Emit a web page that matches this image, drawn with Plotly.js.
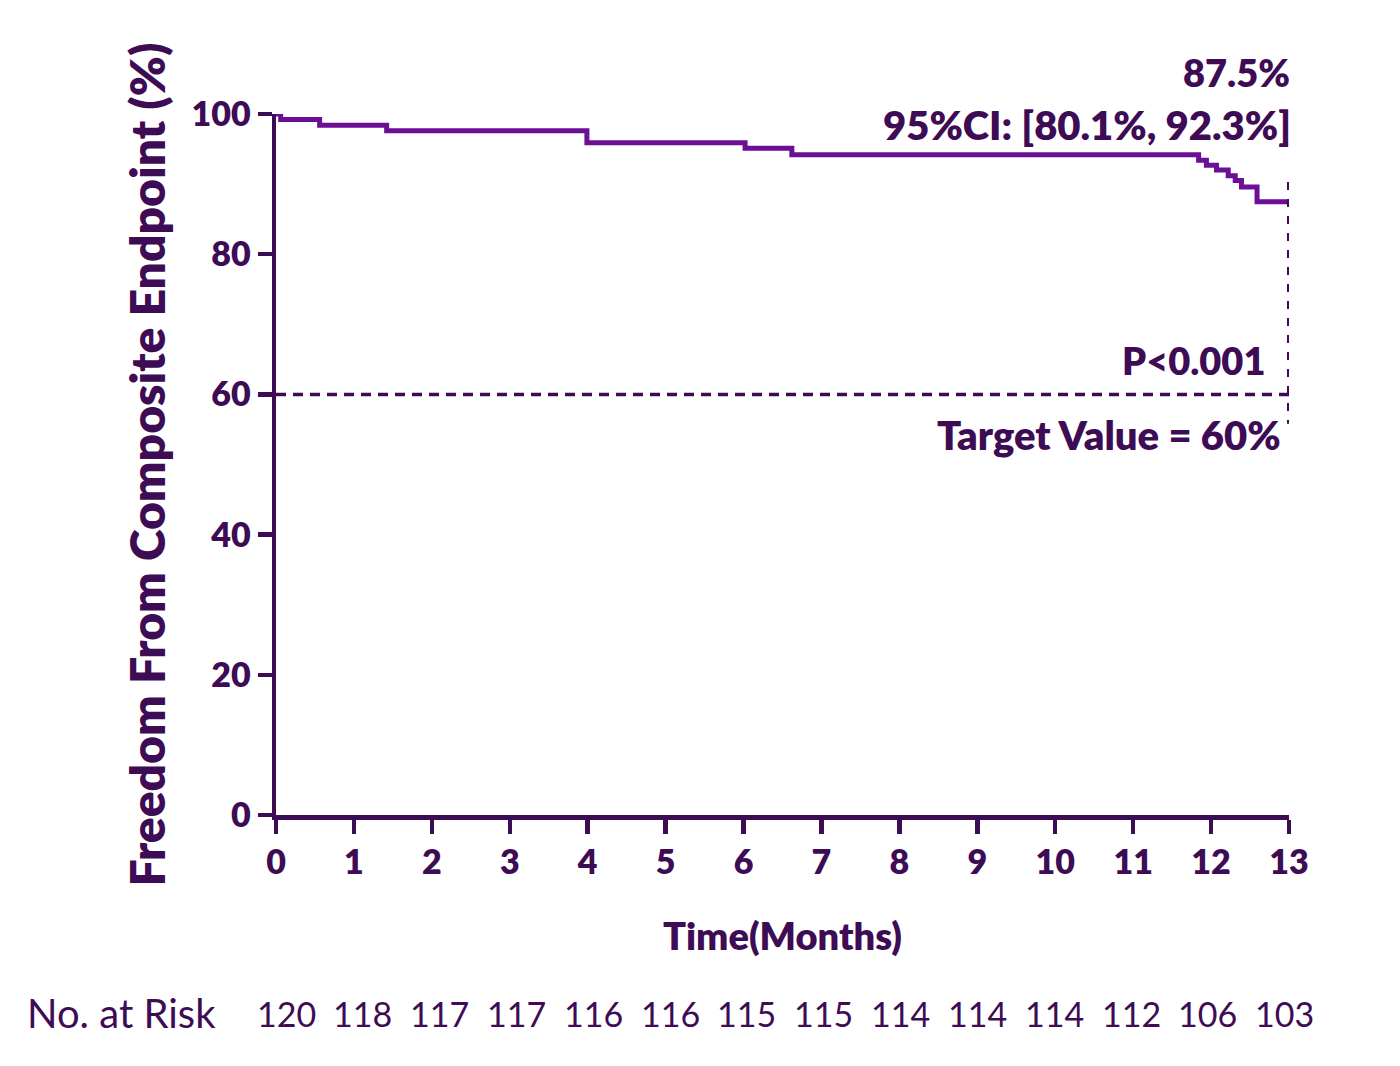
<!DOCTYPE html>
<html>
<head>
<meta charset="utf-8">
<script src="https://cdn.plot.ly/plotly-3.0.1.min.js"></script>
<style>html,body{margin:0;padding:0;background:#fff;}#chart{width:1400px;height:1066px;}</style>
</head>
<body>
<div id="chart"></div>
<script>
// Kaplan-Meier step data
const timeMonths = [0, 0.06, 0.56, 1.42, 3.99, 6.02, 6.62, 11.84, 11.94, 12.07, 12.22, 12.31, 12.39, 12.59, 13];
const freedomPct = [100, 99.2, 98.4, 97.6, 95.9, 95.1, 94.2, 93.4, 92.7, 92.0, 91.2, 90.5, 89.6, 87.5, 87.5];
const xTicks = [0,1,2,3,4,5,6,7,8,9,10,11,12,13];
const yTicks = [0,20,40,60,80,100];
const riskMonths = [0,1,2,3,4,5,6,7,8,9,10,11,12,13];
const riskCounts = [120,118,117,117,116,116,115,115,114,114,114,112,106,103];
const targetValue = 60;

const txt = '#3d0c55';
const curveCol = '#6a0f96';
const fontFam = 'Lato, "Open Sans", sans-serif';
const bw = 800;

const traces = [{
  x: timeMonths, y: freedomPct, type: 'scatter', mode: 'lines',
  line: {shape: 'hv', color: curveCol, width: 5},
  cliponaxis: false, hoverinfo: 'skip', showlegend: false
}];

const bf = (s) => ({size: s, color: txt, family: fontFam, weight: bw});

const annotations = [
  {text: '87.5%', x: 13, y: 1, xref: 'x', yref: 'paper', xanchor: 'right', yanchor: 'middle', xshift: 3, yshift: 42, showarrow: false, font: bf(38)},
  {text: '95%CI: [80.1%, 92.3%]', x: 13, y: 1, xref: 'x', yref: 'paper', xanchor: 'right', yanchor: 'middle', xshift: 4, yshift: -11, showarrow: false, font: bf(40)},
  {text: 'P<0.001', x: 13, y: targetValue, xref: 'x', yref: 'y', xanchor: 'right', yanchor: 'middle', xshift: -22, yshift: 34, showarrow: false, font: bf(38)},
  {text: 'Target Value = 60%', x: 13, y: targetValue, xref: 'x', yref: 'y', xanchor: 'right', yanchor: 'middle', xshift: -6, yshift: -41, showarrow: false, font: bf(40)},
  {text: 'No. at Risk', x: -251/1013, y: -198/701, xref: 'paper', yref: 'paper', xanchor: 'left', yanchor: 'middle', showarrow: false, font: {size: 40, color: txt, family: fontFam}}
];

riskMonths.forEach((m, i) => {
  annotations.push({
    text: String(riskCounts[i]), x: m, y: -198/701, xref: 'x', yref: 'paper',
    xanchor: 'center', yanchor: 'middle', xshift: 10 - i * 1.1, showarrow: false,
    font: {size: 34, color: txt, family: fontFam}
  });
});

const layout = {
  width: 1400, height: 1066,
  margin: {l: 276, r: 111, t: 114, b: 251},
  paper_bgcolor: '#fff', plot_bgcolor: '#fff',
  font: {family: fontFam, color: txt},
  xaxis: {
    range: [0, 13], tickvals: xTicks, ticktext: xTicks.map(String),
    showline: true, linewidth: 4.5, linecolor: txt, ticks: 'outside', ticklen: 14, tickwidth: 4.5, tickcolor: txt,
    showgrid: false, zeroline: false, tickfont: bf(34),
    title: {text: 'Time(Months)', font: bf(38), standoff: 44},
    fixedrange: true
  },
  yaxis: {
    range: [0, 100], tickvals: yTicks, ticktext: yTicks.map(String),
    showline: true, linewidth: 4.5, linecolor: txt, ticks: 'outside', ticklen: 14, tickwidth: 4.5, tickcolor: txt,
    showgrid: false, zeroline: false, tickfont: bf(34),
    title: {text: 'Freedom From Composite Endpoint (%)', font: bf(48), standoff: 12},
    fixedrange: true
  },
  shapes: [
    {type: 'line', xref: 'x', yref: 'y', x0: 0, x1: 13, y0: targetValue, y1: targetValue, line: {color: txt, width: 3.5, dash: '10px,7px'}},
    {type: 'line', xref: 'x', yref: 'y', x0: 13, x1: 13, y0: 90.3, y1: 55.8, line: {color: txt, width: 4, dash: '8px,9px'}}
  ],
  annotations: annotations,
  showlegend: false
};

Plotly.newPlot('chart', traces, layout, {displayModeBar: false, staticPlot: true});
</script>
</body>
</html>
